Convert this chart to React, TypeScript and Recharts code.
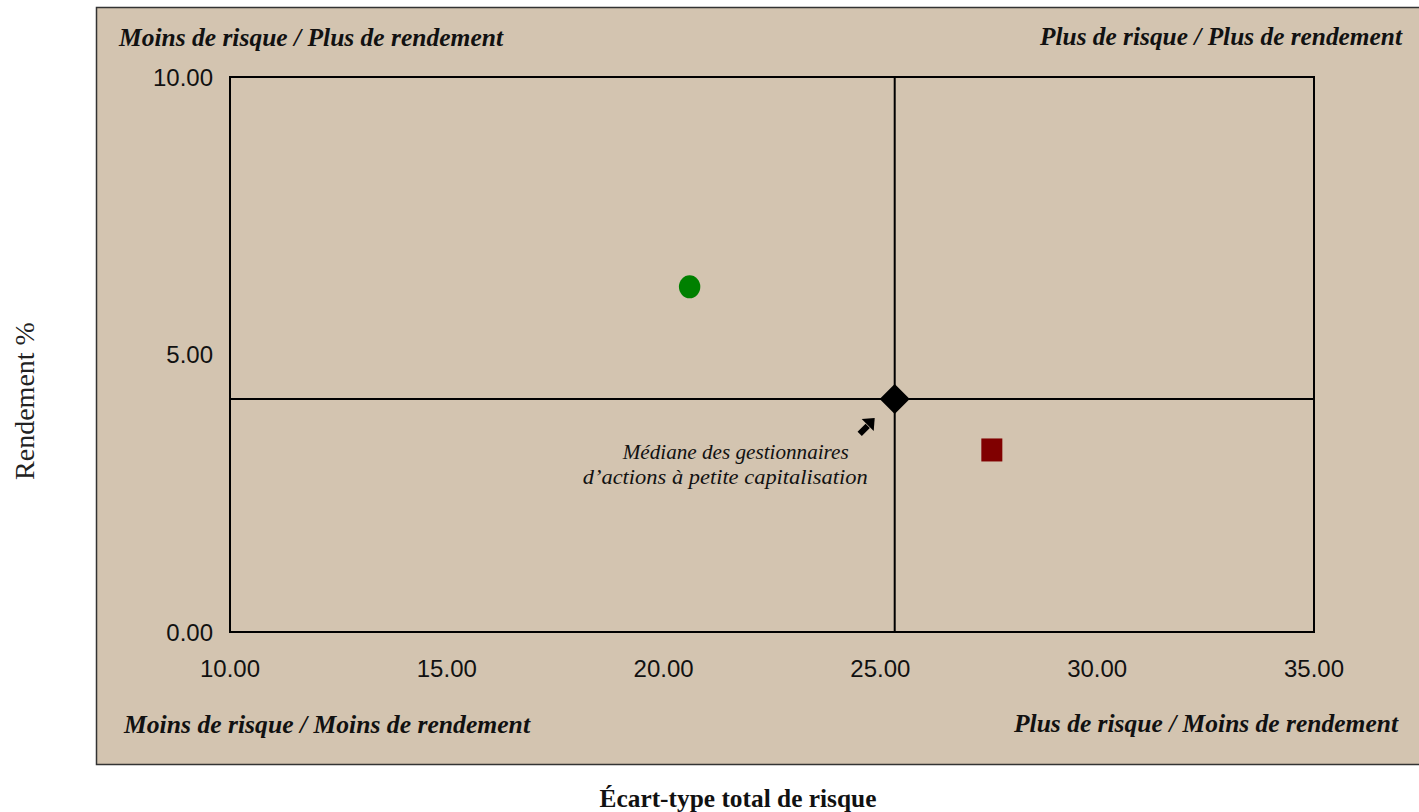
import React from "react";
import {
  ScatterChart,
  Scatter,
  XAxis,
  YAxis,
  ReferenceArea,
  ReferenceLine,
} from "recharts";

// risk (x) / return (y) for each marker
const seriesNames = ["Fonds", "Indice de référence", "Médiane des gestionnaires"];
const riskValues = [20.6, 27.57, 25.33];
const returnValues = [6.22, 3.28, 4.2];

const medianRisk = 25.33;
const medianReturn = 4.2;

const xTicks = [10, 15, 20, 25, 30, 35];
const yTicks = [0, 5, 10];

const quadrantLabels = [
  "Moins de risque / Plus de rendement",
  "Plus de risque / Plus de rendement",
  "Moins de risque / Moins de rendement",
  "Plus de risque / Moins de rendement",
];
const medianNote = ["Médiane des gestionnaires", "d’actions à petite capitalisation"];
const xTitle = "Écart-type total de risque";
const yTitle = "Rendement %";

const W = 1419;
const H = 812;
const PANEL = "#D3C4B0";
const SERIF = "'Liberation Serif', 'Times New Roman', serif";
const SANS = "'Liberation Sans', Arial, sans-serif";

const point = (i: number) => [{ name: seriesNames[i], x: riskValues[i], y: returnValues[i] }];

const FundShape = (p: any) => (
  <ellipse cx={p.cx} cy={p.cy} rx={10.7} ry={11.5} fill="#008000" />
);

const IndexShape = (p: any) => (
  <rect x={p.cx - 10.5} y={p.cy - 11.5} width={21} height={23} fill="#800000" />
);

const MedianShape = (p: any) => {
  const { cx, cy } = p;
  return (
    <g>
      <polygon
        points={`${cx},${cy - 15} ${cx + 15},${cy} ${cx},${cy + 15} ${cx - 15},${cy}`}
        fill="#000"
      />
      <line x1={cx - 35} y1={cy + 35} x2={cx - 27} y2={cy + 27} stroke="#000" strokeWidth={6} />
      <polygon
        points={`${cx - 20},${cy + 19} ${cx - 33},${cy + 20} ${cx - 21},${cy + 32}`}
        fill="#000"
      />
      <text
        x={cx - 159}
        y={cy + 60}
        textAnchor="middle"
        fontFamily={SERIF}
        fontStyle="italic"
        fontSize={21}
        textLength={226}
        lengthAdjust="spacingAndGlyphs"
        fill="#111"
      >
        {medianNote[0]}
      </text>
      <text
        x={cx - 169.5}
        y={cy + 85}
        textAnchor="middle"
        fontFamily={SERIF}
        fontStyle="italic"
        fontSize={21}
        textLength={285}
        lengthAdjust="spacingAndGlyphs"
        fill="#111"
      >
        {medianNote[1]}
      </text>
    </g>
  );
};

const labelStyle = {
  fontFamily: SERIF,
  fontStyle: "italic",
  fontWeight: 700,
  fontSize: 25,
  fill: "#111",
} as const;

export default function App() {
  return (
    <div style={{ position: "absolute", left: 0, top: 0, width: W, height: H }}>
      <svg width={W} height={H} style={{ position: "absolute", left: 0, top: 0 }}>
        <rect x={96.5} y={7.5} width={1340} height={757} fill={PANEL} stroke="#333" strokeWidth={1.5} />
        <text x={119} y={46} textLength={384} lengthAdjust="spacingAndGlyphs" style={labelStyle}>
          {quadrantLabels[0]}
        </text>
        <text x={1402} y={45} textAnchor="end" textLength={362} lengthAdjust="spacingAndGlyphs" style={labelStyle}>
          {quadrantLabels[1]}
        </text>
        <text x={124} y={733} textLength={406} lengthAdjust="spacingAndGlyphs" style={labelStyle}>
          {quadrantLabels[2]}
        </text>
        <text x={1398} y={732} textAnchor="end" textLength={384} lengthAdjust="spacingAndGlyphs" style={labelStyle}>
          {quadrantLabels[3]}
        </text>
        <text
          x={738}
          y={807}
          textAnchor="middle"
          fontFamily={SERIF}
          fontWeight={700}
          fontSize={25}
          textLength={277}
          lengthAdjust="spacingAndGlyphs"
          fill="#111"
        >
          {xTitle}
        </text>
        <text
          transform="translate(34,401) rotate(-90)"
          textAnchor="middle"
          fontFamily={SERIF}
          fontSize={28}
          fill="#222"
        >
          {yTitle}
        </text>
      </svg>

      <ScatterChart
        width={W}
        height={H}
        margin={{ top: 77, right: 105, bottom: 120, left: 170 }}
        style={{ position: "absolute", left: 0, top: 0 }}
      >
        <XAxis
          type="number"
          dataKey="x"
          domain={[10, 35]}
          ticks={xTicks}
          interval={0}
          tickFormatter={(v: number) => v.toFixed(2)}
          height={60}
          axisLine={false}
          tickLine={false}
          tickMargin={22}
          tick={{ fill: "#111", fontSize: 24, fontFamily: SANS }}
          allowDataOverflow
        />
        <YAxis
          type="number"
          dataKey="y"
          domain={[0, 10]}
          ticks={yTicks}
          interval={0}
          tickFormatter={(v: number) => v.toFixed(2)}
          width={60}
          axisLine={false}
          tickLine={false}
          tickMargin={11}
          tick={{ fill: "#111", fontSize: 24, fontFamily: SANS }}
          allowDataOverflow
        />
        <ReferenceArea x1={10} x2={35} y1={0} y2={10} fill="none" stroke="#000" strokeWidth={2} />
        <ReferenceLine x={medianRisk} stroke="#000" strokeWidth={2} />
        <ReferenceLine y={medianReturn} stroke="#000" strokeWidth={2} />
        <Scatter name={seriesNames[0]} data={point(0)} shape={FundShape} isAnimationActive={false} />
        <Scatter name={seriesNames[1]} data={point(1)} shape={IndexShape} isAnimationActive={false} />
        <Scatter name={seriesNames[2]} data={point(2)} shape={MedianShape} isAnimationActive={false} />
      </ScatterChart>
    </div>
  );
}
